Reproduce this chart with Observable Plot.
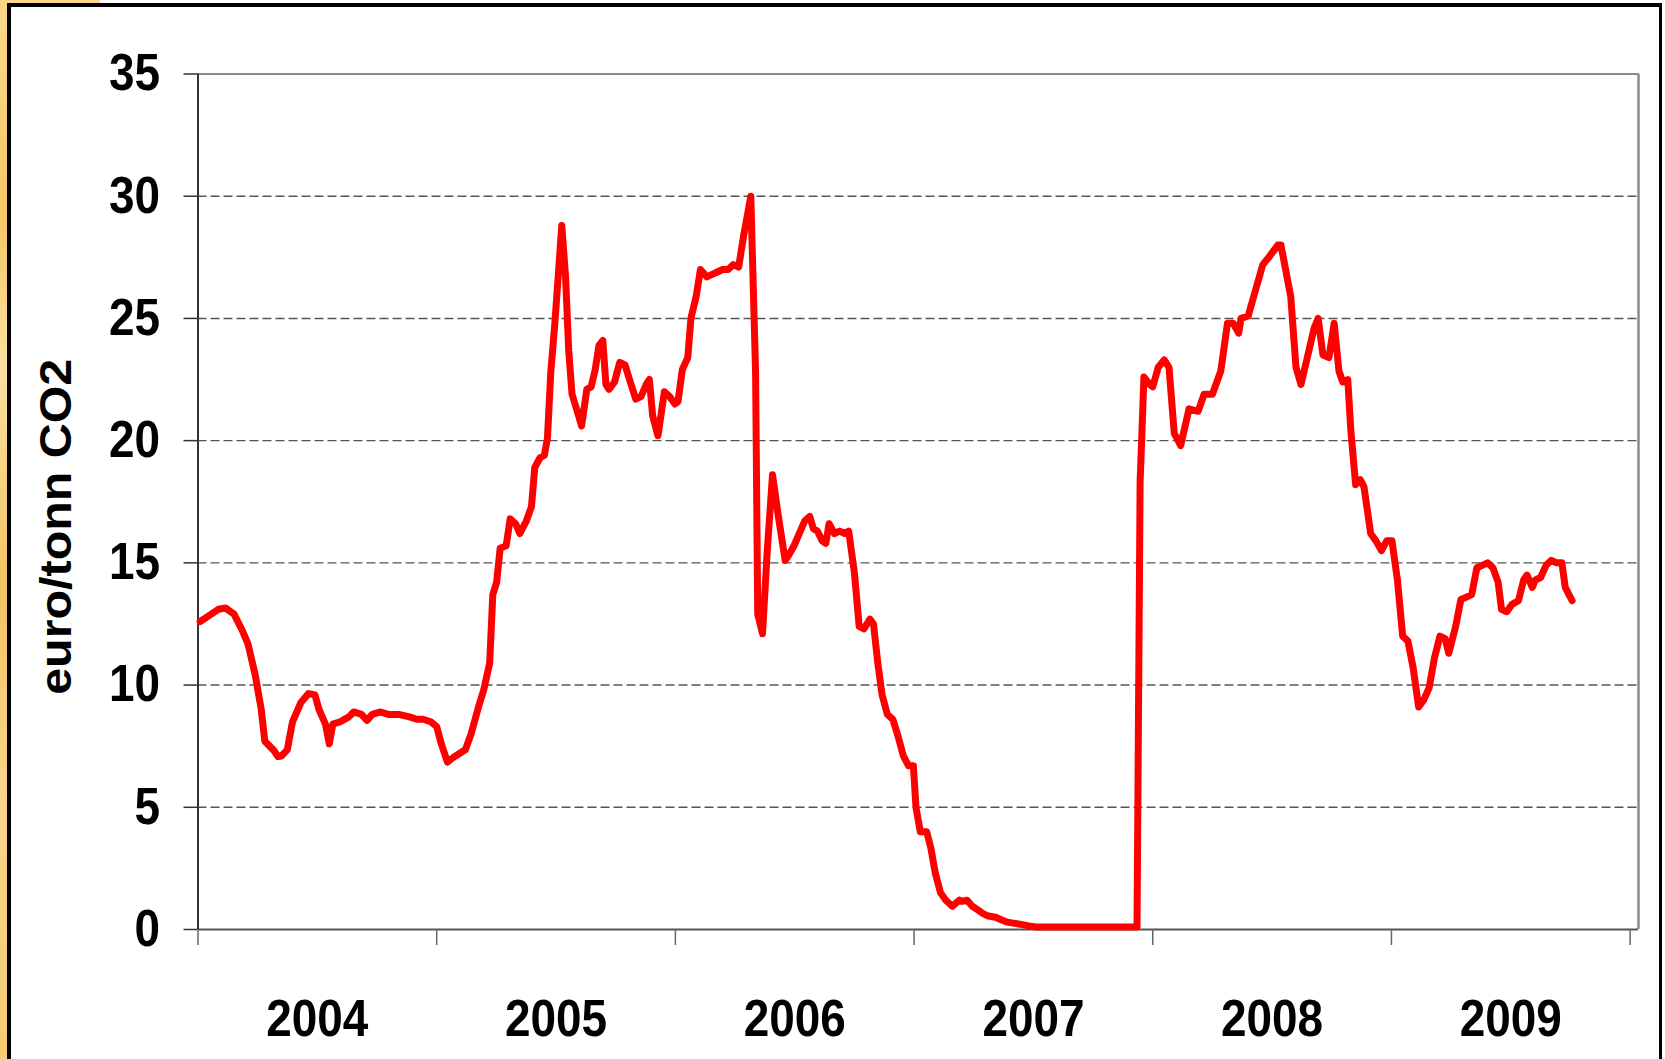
<!DOCTYPE html>
<html>
<head>
<meta charset="utf-8">
<script src="https://cdn.jsdelivr.net/npm/d3@7"></script>
<script src="https://cdn.jsdelivr.net/npm/@observablehq/plot@0.6"></script>
<style>
  html, body { margin: 0; padding: 0; background: #ffffff; overflow: hidden; }
  body { width: 1665px; height: 1059px; position: relative; }
  #stripLeft { position: absolute; left: 0; top: 0; width: 8px; height: 1059px;
    background: linear-gradient(180deg, #f9d98c 0%, #f6c766 20%, #fbe0a0 35%, #f5c462 55%, #f9d48a 75%, #f7cc72 100%); }
  #stripTop { position: absolute; left: 0; top: 0; width: 100px; height: 4px; background: #f9d68a; }
  #frame { position: absolute; left: 7px; top: 3px; width: 1648px; height: 1070px;
    border-left: 4px solid #000; border-top: 4px solid #000; border-right: 3px solid #000;
    background: #ffffff; }
  #chart { position: absolute; left: 0; top: 0; }
</style>
</head>
<body>
<div id="stripLeft"></div>
<div id="stripTop"></div>
<div id="frame"></div>
<div id="chart"></div>
<script>
const years = [
  2004.009, 2004.040, 2004.085, 2004.116, 2004.151, 2004.187, 2004.209, 2004.240, 2004.265, 2004.280,
  2004.320, 2004.335, 2004.350, 2004.374, 2004.396, 2004.432, 2004.463, 2004.490, 2004.507, 2004.534,
  2004.550, 2004.565, 2004.596, 2004.632, 2004.652, 2004.685, 2004.708, 2004.730, 2004.765, 2004.797,
  2004.841, 2004.886, 2004.917, 2004.943, 2004.975, 2005.000, 2005.019, 2005.045, 2005.064, 2005.095,
  2005.120, 2005.144, 2005.175, 2005.197, 2005.222, 2005.235, 2005.251, 2005.266, 2005.291, 2005.308,
  2005.331, 2005.348, 2005.375, 2005.397, 2005.411, 2005.433, 2005.451, 2005.464, 2005.478, 2005.495,
  2005.509, 2005.524, 2005.540, 2005.553, 2005.567, 2005.589, 2005.607, 2005.629, 2005.647, 2005.664,
  2005.680, 2005.696, 2005.709, 2005.722, 2005.745, 2005.767, 2005.789, 2005.811, 2005.834, 2005.856,
  2005.878, 2005.891, 2005.905, 2005.927, 2005.954, 2005.976, 2005.998, 2006.011, 2006.029, 2006.052,
  2006.065, 2006.087, 2006.105, 2006.132, 2006.154, 2006.176, 2006.198, 2006.221, 2006.243, 2006.265,
  2006.288, 2006.305, 2006.316, 2006.336, 2006.345, 2006.365, 2006.385, 2006.407, 2006.430, 2006.460,
  2006.474, 2006.497, 2006.519, 2006.541, 2006.563, 2006.578, 2006.595, 2006.615, 2006.630, 2006.644,
  2006.666, 2006.688, 2006.710, 2006.726, 2006.750, 2006.770, 2006.790, 2006.815, 2006.830, 2006.848,
  2006.866, 2006.888, 2006.911, 2006.933, 2006.955, 2006.977, 2006.997, 2007.008, 2007.026, 2007.053,
  2007.071, 2007.089, 2007.111, 2007.133, 2007.160, 2007.178, 2007.190, 2007.200, 2007.222, 2007.244,
  2007.267, 2007.289, 2007.311, 2007.342, 2007.365, 2007.391, 2007.422, 2007.454, 2007.480, 2007.511,
  2007.925, 2007.934, 2007.947, 2007.963, 2007.987, 2008.000, 2008.023, 2008.048, 2008.068, 2008.090,
  2008.117, 2008.152, 2008.190, 2008.215, 2008.250, 2008.285, 2008.313, 2008.337, 2008.360, 2008.370,
  2008.400, 2008.420, 2008.461, 2008.486, 2008.524, 2008.537, 2008.578, 2008.600, 2008.621, 2008.676,
  2008.693, 2008.713, 2008.738, 2008.760, 2008.780, 2008.796, 2008.817, 2008.830, 2008.850, 2008.870,
  2008.885, 2008.913, 2008.935, 2008.958, 2008.980, 2009.002, 2009.025, 2009.047, 2009.069, 2009.091,
  2009.114, 2009.136, 2009.158, 2009.180, 2009.203, 2009.225, 2009.240, 2009.269, 2009.291, 2009.314,
  2009.336, 2009.358, 2009.380, 2009.403, 2009.425, 2009.447, 2009.461, 2009.483, 2009.505, 2009.532,
  2009.554, 2009.568, 2009.590, 2009.603, 2009.625, 2009.648, 2009.670, 2009.692, 2009.714, 2009.728,
  2009.757
];
const prices = [
  12.6, 12.8, 13.1, 13.15, 12.9, 12.2, 11.7, 10.4, 9.0, 7.7,
  7.3, 7.07, 7.1, 7.35, 8.5, 9.3, 9.65, 9.6, 9.0, 8.4,
  7.6, 8.4, 8.5, 8.7, 8.9, 8.8, 8.55, 8.8, 8.9, 8.8,
  8.8, 8.7, 8.6, 8.6, 8.5, 8.3, 7.6, 6.85, 7.0, 7.2,
  7.35, 8.0, 9.1, 9.8, 10.9, 13.7, 14.2, 15.6, 15.7, 16.8,
  16.6, 16.2, 16.7, 17.3, 18.9, 19.3, 19.4, 20.1, 22.8, 24.8,
  26.7, 28.8, 26.7, 23.7, 21.9, 21.2, 20.6, 22.1, 22.2, 22.9,
  23.9, 24.1, 22.3, 22.1, 22.4, 23.2, 23.1, 22.4, 21.7, 21.8,
  22.3, 22.5, 21.0, 20.2, 22.0, 21.8, 21.5, 21.6, 22.9, 23.4,
  25.0, 25.9, 27.0, 26.7, 26.8, 26.9, 27.0, 27.0, 27.2, 27.1,
  28.5, 29.4, 30.0, 22.8, 12.9, 12.1, 15.5, 18.6, 17.0, 15.1,
  15.3, 15.7, 16.2, 16.7, 16.9, 16.4, 16.3, 15.9, 15.8, 16.6,
  16.2, 16.3, 16.2, 16.3, 14.6, 12.4, 12.3, 12.7, 12.5, 10.9,
  9.6, 8.8, 8.6, 7.9, 7.1, 6.7, 6.7, 5.0, 4.0, 4.0,
  3.3, 2.3, 1.5, 1.2, 0.95, 1.1, 1.2, 1.15, 1.2, 0.95,
  0.8, 0.65, 0.55, 0.5, 0.4, 0.3, 0.25, 0.2, 0.15, 0.1,
  0.1, 0.1, 18.3, 22.6, 22.3, 22.2, 23.0, 23.3, 23.0, 20.3,
  19.8, 21.3, 21.2, 21.9, 21.9, 22.85, 24.8, 24.8, 24.4, 25.0,
  25.1, 25.8, 27.2, 27.5, 28.0, 28.0, 25.9, 23.0, 22.3, 24.6,
  25.0, 23.5, 23.4, 24.8, 22.85, 22.4, 22.5, 20.4, 18.2, 18.4,
  18.1, 16.2, 15.9, 15.5, 15.9, 15.9, 14.3, 12.0, 11.8, 10.7,
  9.1, 9.4, 9.9, 11.1, 12.0, 11.9, 11.3, 12.4, 13.5, 13.6,
  13.7, 14.8, 14.9, 15.0, 14.8, 14.2, 13.1, 13.0, 13.3, 13.45,
  14.3, 14.5, 14.0, 14.3, 14.4, 14.9, 15.1, 15.0, 15.0, 14.0,
  13.45
];
const yearTicks = [2004, 2005, 2006, 2007, 2008, 2009, 2010];
const yearLabels = [2004, 2005, 2006, 2007, 2008, 2009];
const yTicks = [0, 5, 10, 15, 20, 25, 30, 35];
const gridValues = [5, 10, 15, 20, 25, 30];
const yTitle = "euro/tonn CO2";

const data = years.map((y, i) => ({year: y, price: prices[i]}));
const xMax = 2010.035;

const font = "'Liberation Sans', Arial, Helvetica, sans-serif";

const chart = Plot.plot({
  width: 1665,
  height: 1059,
  marginLeft: 197.5,
  marginRight: 27,
  marginTop: 73.5,
  marginBottom: 130,
  style: {background: "transparent", fontFamily: font, fontSize: "51px", fontWeight: "bold", color: "#000", overflow: "visible"},
  x: {type: "linear", domain: [2004, xMax]},
  y: {domain: [0, 35]},
  marks: [
    Plot.gridY(gridValues, {stroke: "#555", strokeOpacity: 1, strokeWidth: 1.4, strokeDasharray: "9,4"}),
    Plot.ruleY([35], {stroke: "#8a8a8a", strokeWidth: 2}),
    Plot.ruleX([xMax], {stroke: "#8a8a8a", strokeWidth: 2.5}),
    Plot.ruleY([0], {stroke: "#555", strokeWidth: 2}),
    Plot.ruleX([2004], {stroke: "#333", strokeWidth: 2}),
    Plot.axisY(yTicks, {tickSize: 14, tickPadding: 24, stroke: "#333", strokeWidth: 1.5, fontSize: 51, fontWeight: "bold", fill: "#000", label: null}),
    Plot.axisX(yearTicks, {tickSize: 16, stroke: "#666", strokeWidth: 1.5, tickFormat: () => "", label: null}),
    Plot.axisX(yearLabels.map(d => d + 0.5), {tickSize: 0, tickPadding: 70, tickFormat: d => String(Math.floor(d)), fontSize: 51, fontWeight: "bold", fill: "#000", label: null}),
    Plot.text([yTitle], {frameAnchor: "left", text: d => d, rotate: -90, dx: -127.5, dy: 25, lineAnchor: "bottom", textAnchor: "middle", fontSize: 44, fontWeight: "bold", fill: "#000"}),
    Plot.line(data, {x: "year", y: "price", stroke: "#ff0000", strokeWidth: 7, strokeLinejoin: "round"})
  ]
});

// Condense the tick labels and stretch the title slightly, like the reference font.
function scaleText(sel, sx) {
  sel.each(function() {
    const t = this.getAttribute("transform");
    if (t && t.includes("translate")) {
      this.setAttribute("transform", t + ` scale(${sx},1)`);
    } else {
      const x = +(this.getAttribute("x") || 0), y = +(this.getAttribute("y") || 0);
      this.removeAttribute("x"); this.removeAttribute("y");
      this.setAttribute("transform", `translate(${x},${y}) scale(${sx},1)` + (t ? " " + t : ""));
    }
  });
}
const svg = d3.select(chart);
scaleText(svg.selectAll("g[aria-label='y-axis tick label'] text, g[aria-label='x-axis tick label'] text"), 0.9);
scaleText(svg.selectAll("g[aria-label='text'] text"), 1.1);

document.getElementById("chart").appendChild(chart);
</script>
</body>
</html>
